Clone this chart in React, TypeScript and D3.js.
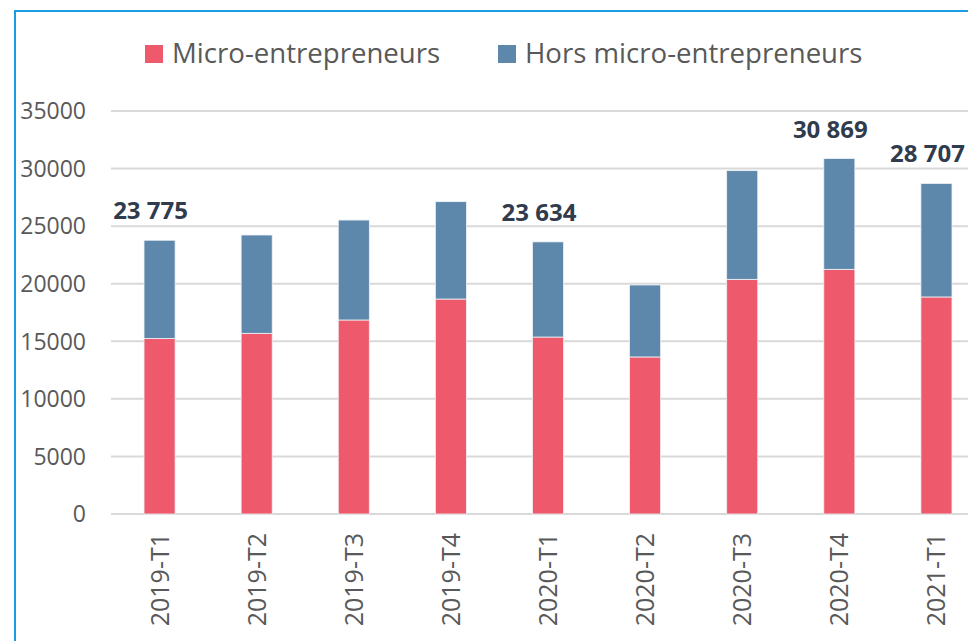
import * as d3 from "d3";
import { useEffect, useRef } from "react";

const quarters = ["2019-T1", "2019-T2", "2019-T3", "2019-T4", "2020-T1", "2020-T2", "2020-T3", "2020-T4", "2021-T1"];
const micro = [15250, 15690, 16850, 18670, 15370, 13640, 20380, 21250, 18850];
const hors = [8525, 8540, 8680, 8455, 8264, 6250, 9440, 9619, 9857];
const labelledQuarters = ["2019-T1", "2020-T1", "2020-T4", "2021-T1"];
const yTicks = [0, 5000, 10000, 15000, 20000, 25000, 30000, 35000];
const seriesNames = ["Micro-entrepreneurs", "Hors micro-entrepreneurs"];

const W = 968;
const H = 641;
const font = "'Open Sans', sans-serif";

const App = () => {
    const chartRef = useRef(null);

    useEffect(() => {
        const svg = d3.select(chartRef.current);
        svg.selectAll("*").remove();

        const colors = ["#ee5a6b", "#5d87ab"];

        const scaleX = d3.scaleBand()
            .domain(quarters)
            .range([111, 985])
            .paddingInner(0.68)
            .paddingOuter(0.34);

        const scaleY = d3.scaleLinear()
            .domain([0, 35000])
            .range([514, 111]);

        svg.append("rect")
            .attr("width", W)
            .attr("height", H)
            .style("fill", "#fff");

        // frame
        svg.append("rect")
            .attr("x", 15)
            .attr("y", 11)
            .attr("width", W + 20)
            .attr("height", H + 20)
            .style("fill", "none")
            .style("stroke", "#1a9de0")
            .style("stroke-width", 2);

        // grid
        svg.append("g")
            .selectAll("line")
            .data(yTicks)
            .enter()
            .append("line")
            .attr("x1", 111)
            .attr("x2", W)
            .attr("y1", d => scaleY(d))
            .attr("y2", d => scaleY(d))
            .style("stroke", "#d9d9d9")
            .style("stroke-width", 2);

        svg.append("g")
            .selectAll("text")
            .data(yTicks)
            .enter()
            .append("text")
            .attr("x", 86)
            .attr("y", d => scaleY(d))
            .attr("dy", "0.36em")
            .attr("text-anchor", "end")
            .style("font-family", font)
            .style("font-size", "23px")
            .style("fill", "#595959")
            .text(d => d);

        const data = quarters.map((q, i) => ({ q, micro: micro[i], hors: hors[i] }));
        const stack = d3.stack().keys(["micro", "hors"])(data);

        stack.forEach((layer, li) => {
            svg.append("g")
                .selectAll("rect")
                .data(layer)
                .enter()
                .append("rect")
                .attr("x", d => scaleX(d.data.q))
                .attr("y", d => scaleY(d[1]))
                .attr("width", scaleX.bandwidth())
                .attr("height", d => scaleY(d[0]) - scaleY(d[1]))
                .style("fill", colors[li])
                .style("stroke", "#eef2f6")
                .style("stroke-width", 0.8);
        });

        // x labels
        svg.append("g")
            .selectAll("text")
            .data(quarters)
            .enter()
            .append("text")
            .attr("transform", d => `translate(${scaleX(d) + scaleX.bandwidth() / 2}, 533) rotate(-90)`)
            .attr("dy", "0.36em")
            .attr("text-anchor", "end")
            .style("font-family", font)
            .style("font-size", "25px")
            .style("fill", "#595959")
            .text(d => d);

        // total labels
        const fmt = d3.format(",");
        svg.append("g")
            .selectAll("text")
            .data(data.filter(d => labelledQuarters.includes(d.q)))
            .enter()
            .append("text")
            .attr("x", d => scaleX(d.q) + scaleX.bandwidth() / 2 - 9)
            .attr("y", d => scaleY(d.micro + d.hors) - 21)
            .attr("text-anchor", "middle")
            .style("font-family", font)
            .style("font-size", "24px")
            .style("font-weight", "bold")
            .style("fill", "#303b4d")
            .text(d => fmt(d.micro + d.hors).replace(",", " "));

        // legend
        const legendX = [145, 498];
        const legend = svg.append("g");
        seriesNames.forEach((name, i) => {
            legend.append("rect")
                .attr("x", legendX[i])
                .attr("y", 45)
                .attr("width", 18)
                .attr("height", 18)
                .style("fill", colors[i]);
            legend.append("text")
                .attr("x", legendX[i] + 27)
                .attr("y", 63)
                .style("font-family", font)
                .style("font-size", "27.6px")
                .style("fill", "#595959")
                .text(name);
        });
    }, []);

    return (
        <svg ref={chartRef} width={W} height={H} style={{ position: "absolute", left: 0, top: 0 }}></svg>
    );
};

export default App;
